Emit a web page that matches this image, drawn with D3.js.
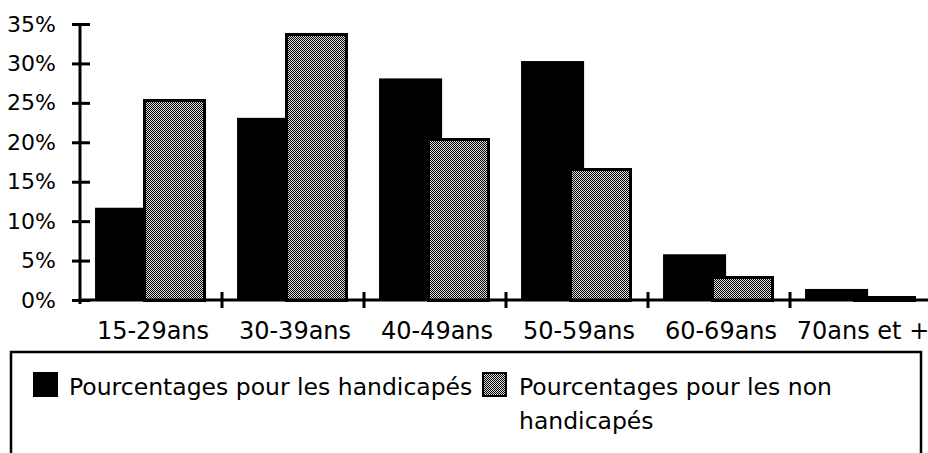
<!DOCTYPE html>
<html>
<head>
<meta charset="utf-8">
<script src="https://cdn.jsdelivr.net/npm/d3@7"></script>
<style>
  body { margin: 0; background: #fff; }
  svg { display: block; }
  text { font-family: "DejaVu Sans", sans-serif; fill: #000; }
</style>
</head>
<body>
<svg width="928" height="453"></svg>
<script>
// data
var categories = ["15-29ans", "30-39ans", "40-49ans", "50-59ans", "60-69ans", "70ans et +"];
var handicapes = [11.7, 23.1, 28.1, 30.3, 5.8, 1.4];
var nonHandicapes = [25.5, 33.8, 20.5, 16.7, 3.0, 0.5];
var yTicks = [0, 5, 10, 15, 20, 25, 30, 35];
var legendLabels = ["Pourcentages pour les handicapés", "Pourcentages pour les non", "handicapés"];

var svg = d3.select("svg");

// dithered grey fill
var defs = svg.append("defs");
var pat = defs.append("pattern")
    .attr("id", "dither")
    .attr("width", 2).attr("height", 2)
    .attr("patternUnits", "userSpaceOnUse");
pat.append("rect").attr("width", 2).attr("height", 2).attr("fill", "#ddd");
pat.append("rect").attr("x", 0).attr("y", 0).attr("width", 1).attr("height", 1).attr("fill", "#000");
pat.append("rect").attr("x", 1).attr("y", 1).attr("width", 1).attr("height", 1).attr("fill", "#000");

var x = d3.scaleBand().domain(categories).range([80, 932]).padding(0);
var y = d3.scaleLinear().domain([0, 35]).range([300, 24]);
var bw = x.bandwidth();

// black bars (behind)
svg.selectAll("rect.h").data(handicapes).enter().append("rect")
    .attr("class", "h")
    .attr("x", function(d, i) { return x(categories[i]) + bw * 0.106; })
    .attr("width", bw * 0.444)
    .attr("y", function(d) { return y(d); })
    .attr("height", function(d) { return y(0) - y(d); })
    .attr("fill", "#000");

// dithered bars (on top)
svg.selectAll("rect.nh").data(nonHandicapes).enter().append("rect")
    .attr("class", "nh")
    .attr("x", function(d, i) { return x(categories[i]) + bw * 0.444 + 1.5; })
    .attr("width", bw * 0.444 - 3)
    .attr("y", function(d) { return y(d) + 1.5; })
    .attr("height", function(d) { return Math.max(0, y(0) - y(d) - 1.5); })
    .attr("fill", "url(#dither)")
    .attr("stroke", "#000")
    .attr("stroke-width", 3)
    .attr("shape-rendering", "crispEdges");

// y axis
var yAxis = d3.axisLeft(y).tickValues(yTicks).tickSize(0).tickPadding(24)
    .tickFormat(function(d) { return d + "%"; });
var gy = svg.append("g").attr("transform", "translate(80,0)").call(yAxis);
gy.select(".domain").remove();
gy.selectAll("text").style("font-size", "22px").style("font-family", "DejaVu Sans");
gy.selectAll(".tick").append("line")
    .attr("x1", -8).attr("x2", 10)
    .attr("stroke", "#000").attr("stroke-width", 3);
gy.append("line").attr("x1", 0).attr("x2", 0).attr("y1", y(35)).attr("y2", y(0) + 4)
    .attr("stroke", "#000").attr("stroke-width", 3);

// x axis
var gx = svg.append("g").attr("transform", "translate(0,300)");
gx.append("line").attr("x1", 80).attr("x2", 928).attr("y1", 0).attr("y2", 0)
    .attr("stroke", "#000").attr("stroke-width", 3);
gx.selectAll("line.sep").data(categories.slice(1)).enter().append("line")
    .attr("class", "sep")
    .attr("x1", function(d) { return x(d); }).attr("x2", function(d) { return x(d); })
    .attr("y1", -8).attr("y2", 8)
    .attr("stroke", "#000").attr("stroke-width", 3);
gx.selectAll("text").data(categories).enter().append("text")
    .attr("x", function(d) { return x(d) + bw / 2 + 2; })
    .attr("y", 39)
    .attr("text-anchor", "middle")
    .style("font-size", "24px")
    .text(function(d) { return d; });

// legend
svg.append("rect").attr("x", 11).attr("y", 352).attr("width", 910).attr("height", 120)
    .attr("fill", "none").attr("stroke", "#000").attr("stroke-width", 2.5);
svg.append("rect").attr("x", 33).attr("y", 372).attr("width", 25).attr("height", 25).attr("fill", "#000");
svg.append("rect").attr("x", 483).attr("y", 373).attr("width", 23).attr("height", 23)
    .attr("fill", "url(#dither)").attr("stroke", "#000").attr("stroke-width", 1.5)
    .attr("shape-rendering", "crispEdges");
svg.append("text").attr("x", 69).attr("y", 395).style("font-size", "23.5px").text(legendLabels[0]);
svg.append("text").attr("x", 519).attr("y", 395).style("font-size", "23.5px").text(legendLabels[1]);
svg.append("text").attr("x", 519).attr("y", 429).style("font-size", "23.5px").text(legendLabels[2]);
</script>
</body>
</html>
